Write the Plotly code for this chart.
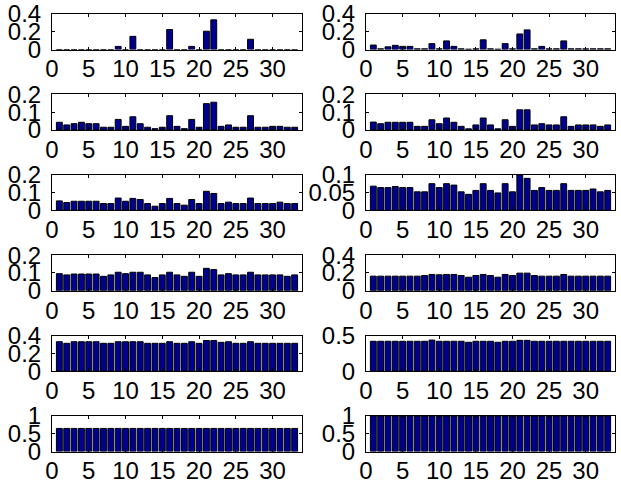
import plotly.graph_objects as go

x_pos = list(range(1, 34))
x_ticks = [0, 5, 10, 15, 20, 25, 30]

p1 = [0, 0, 0, 0, 0, 0, 0, 0, 0.035, 0, 0.148, 0, 0, 0, 0, 0.225, 0, 0, 0.035, 0,
      0.206, 0.334, 0, 0, 0, 0, 0.115, 0, 0, 0, 0, 0, 0]
p2 = [0.05, 0.008, 0.03, 0.047, 0.035, 0.035, 0.008, 0.008, 0.066, 0.008, 0.097, 0.035, 0.008,
      0.004, 0.008, 0.109, 0.008, 0.004, 0.066, 0.008, 0.175, 0.221, 0.008, 0.035, 0.008,
      0.008, 0.097, 0.008, 0.008, 0.008, 0.008, 0.008, 0.008]
p3 = [0.043, 0.028, 0.035, 0.043, 0.035, 0.035, 0.015, 0.015, 0.059, 0.02, 0.074, 0.035, 0.015,
      0.007, 0.015, 0.08, 0.02, 0.007, 0.059, 0.015, 0.148, 0.156, 0.02, 0.028, 0.015, 0.015,
      0.08, 0.015, 0.015, 0.02, 0.02, 0.015, 0.015]
p4 = [0.044, 0.035, 0.043, 0.043, 0.043, 0.043, 0.02, 0.02, 0.057, 0.035, 0.067, 0.043, 0.02,
      0.006, 0.028, 0.067, 0.028, 0.006, 0.057, 0.02, 0.113, 0.113, 0.028, 0.035, 0.028, 0.028,
      0.074, 0.02, 0.028, 0.028, 0.028, 0.02, 0.028]
p5 = [0.053, 0.044, 0.051, 0.051, 0.051, 0.051, 0.038, 0.038, 0.069, 0.051, 0.067, 0.061, 0.038,
      0.023, 0.038, 0.067, 0.038, 0.029, 0.061, 0.038, 0.107, 0.095, 0.038, 0.046, 0.038, 0.038,
      0.069, 0.038, 0.038, 0.038, 0.046, 0.038, 0.038]
p6 = [0.068, 0.064, 0.064, 0.067, 0.064, 0.064, 0.052, 0.052, 0.075, 0.064, 0.075, 0.071, 0.052,
      0.045, 0.056, 0.075, 0.056, 0.049, 0.075, 0.052, 0.1, 0.09, 0.056, 0.064, 0.056, 0.056,
      0.075, 0.056, 0.056, 0.056, 0.06, 0.052, 0.056]
p7 = [0.096, 0.089, 0.094, 0.094, 0.094, 0.094, 0.081, 0.089, 0.104, 0.096, 0.104, 0.104, 0.089,
      0.074, 0.089, 0.104, 0.089, 0.081, 0.104, 0.081, 0.126, 0.119, 0.089, 0.096, 0.089, 0.089,
      0.104, 0.089, 0.089, 0.089, 0.089, 0.081, 0.089]
p8 = [0.164, 0.164, 0.164, 0.164, 0.164, 0.164, 0.164, 0.171, 0.183, 0.179, 0.183, 0.183, 0.171,
      0.152, 0.171, 0.183, 0.171, 0.152, 0.183, 0.171, 0.198, 0.198, 0.171, 0.164, 0.164, 0.164,
      0.183, 0.164, 0.164, 0.164, 0.164, 0.164, 0.164]
p9 = [0.331, 0.313, 0.331, 0.331, 0.331, 0.331, 0.313, 0.313, 0.331, 0.331, 0.331, 0.331, 0.313,
      0.313, 0.313, 0.331, 0.313, 0.313, 0.331, 0.313, 0.345, 0.345, 0.324, 0.331, 0.313, 0.313,
      0.331, 0.313, 0.313, 0.313, 0.313, 0.313, 0.313]
p10 = [0.42, 0.42, 0.42, 0.42, 0.42, 0.42, 0.42, 0.42, 0.437, 0.42, 0.42, 0.42, 0.42,
       0.406, 0.42, 0.42, 0.42, 0.406, 0.42, 0.42, 0.433, 0.433, 0.42, 0.42, 0.42, 0.42,
       0.42, 0.42, 0.42, 0.42, 0.42, 0.42, 0.42]
p11 = [0.65] * 33
p12 = [1.0] * 33

series = [p1, p2, p3, p4, p5, p6, p7, p8, p9, p10, p11, p12]
y_max = [0.4, 0.4, 0.2, 0.2, 0.2, 0.1, 0.2, 0.4, 0.4, 0.5, 1, 1]
y_dtick = [0.2, 0.2, 0.1, 0.1, 0.1, 0.05, 0.1, 0.2, 0.2, 0.5, 0.5, 0.5]

W, H = 621, 480
col_x = [(52, 302), (366, 615)]
top0, step, hgt = 14, 80.4, 35.5

font = dict(family="Liberation Sans, Arial, sans-serif", size=24, color="black")

fig = go.Figure()
layout = {}
for i, vals in enumerate(series):
    r, c = divmod(i, 2)
    n = i + 1
    xa = "x" if n == 1 else f"x{n}"
    ya = "y" if n == 1 else f"y{n}"
    fig.add_trace(go.Bar(
        x=x_pos, y=vals, width=0.8, xaxis=xa, yaxis=ya,
        marker=dict(color="#00008f", line=dict(color="black", width=1)),
        showlegend=False, hoverinfo="skip"))
    top = top0 + step * r
    bot = top + hgt
    x0, x1 = col_x[c]
    common = dict(showline=True, linecolor="black", linewidth=1, mirror="ticks",
                  ticks="inside", ticklen=3, tickcolor="black", showgrid=False,
                  zeroline=False, tickfont=font, automargin=False)
    layout["xaxis" if n == 1 else f"xaxis{n}"] = dict(
        domain=[x0 / W, x1 / W], range=[0, 34], tickvals=x_ticks,
        anchor=ya, ticklabelstandoff=-2, **common)
    layout["yaxis" if n == 1 else f"yaxis{n}"] = dict(
        domain=[1 - bot / H, 1 - top / H], range=[0, y_max[i]],
        tick0=0, dtick=y_dtick[i], anchor=xa, ticklabelstandoff=5, **common)

fig.update_layout(**layout)
fig.update_layout(width=W, height=H, margin=dict(l=0, r=0, t=0, b=0),
                  paper_bgcolor="white", plot_bgcolor="white", bargap=0)
fig.write_html("out.html", config={"displayModeBar": False, "staticPlot": True},
               post_script="document.body.style.margin='0';document.body.style.overflow='hidden';")
